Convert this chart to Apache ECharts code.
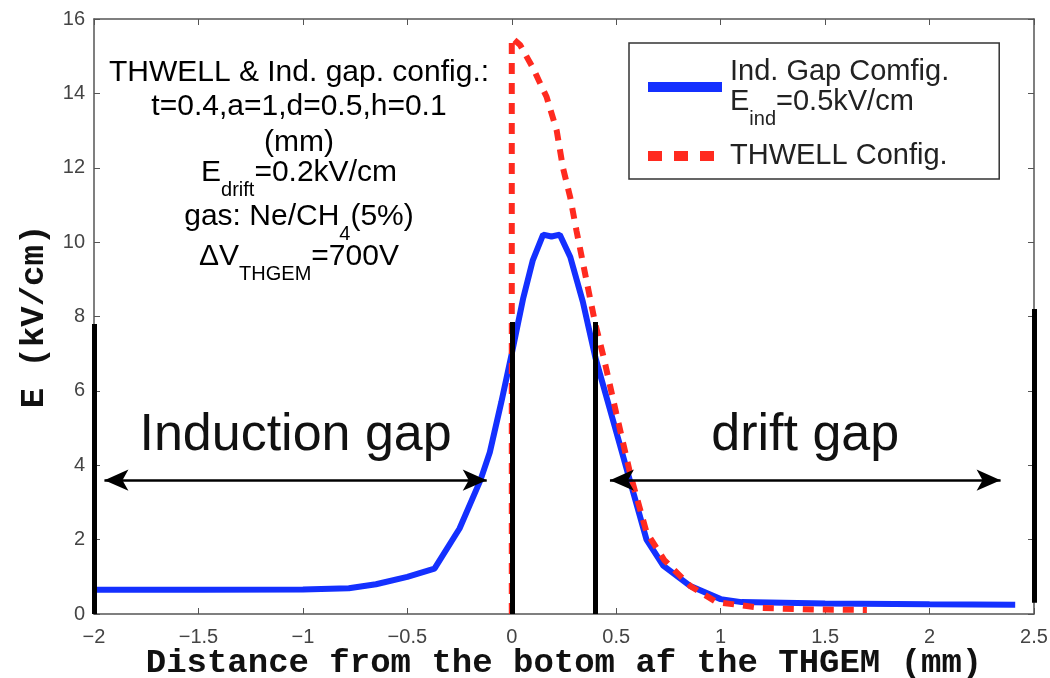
<!DOCTYPE html>
<html>
<head>
<meta charset="utf-8">
<title>E field along THGEM</title>
<script src="https://cdn.jsdelivr.net/npm/echarts@6/dist/echarts.min.js"></script>
<style>
  html, body { margin: 0; padding: 0; background: #fff; }
  #main { width: 1050px; height: 678px; }
</style>
</head>
<body>
<div id="main"></div>
<script>
// distance from bottom of THGEM (mm) / field (kV/cm)
const indGapX = [-2, -1.5, -1.0, -0.78, -0.65, -0.5, -0.37, -0.25, -0.15, -0.105, -0.05, 0.0, 0.055, 0.1, 0.15, 0.19, 0.23, 0.28, 0.34, 0.40, 0.50, 0.57, 0.645, 0.725, 0.855, 1.0, 1.1, 1.5, 2.0, 2.41];
const indGapE = [0.65, 0.65, 0.66, 0.69, 0.8, 1.0, 1.22, 2.3, 3.6, 4.35, 5.7, 7.0, 8.5, 9.5, 10.2, 10.15, 10.2, 9.6, 8.4, 6.9, 4.9, 3.5, 2.0, 1.3, 0.75, 0.4, 0.32, 0.28, 0.26, 0.25];
const thwellX = [0, 0, 0.04, 0.10, 0.167, 0.215, 0.245, 0.28, 0.31, 0.36, 0.40, 0.44, 0.50, 0.57, 0.645, 0.73, 0.855, 0.98, 1.2, 1.45, 1.7];
const thwellE = [0, 15.5, 15.3, 14.7, 13.9, 13.0, 12.0, 11.2, 10.3, 8.9, 7.8, 6.9, 5.4, 3.7, 2.2, 1.45, 0.75, 0.32, 0.16, 0.12, 0.11];

// electrode / gap boundaries (black bars)
const barX = [-2, 0, 0.4, 2.5];
const barLow = [0, 0, 0, 0.3];
const barHigh = [7.8, 7.85, 7.85, 8.2];

// gap arrows
const arrowE = 3.6;
const inductionArrow = [-1.95, -0.12];
const driftArrow = [0.47, 2.34];

const SANS = '"Liberation Sans", Arial, Helvetica, sans-serif';
const MONO = '"Liberation Mono", "Courier New", monospace';

const myChart = echarts.init(document.getElementById('main'));

const pairs = (xs, ys) => xs.map((x, i) => [x, ys[i]]);
const minus = (v) => (v < 0 ? '\u2212' + Math.abs(v) : String(v));

// subscript styles (annotation + legend)
const richText = {
  t: { fontSize: 29, fontFamily: SANS, color: '#222', lineHeight: 30, verticalAlign: 'top' },
  s: { fontSize: 20, fontFamily: SANS, color: '#222', lineHeight: 20, padding: [22, 0, 0, 0], verticalAlign: 'top' }
};
const noteRich = {
  t: Object.assign({}, richText.t, { fontSize: 30 }),
  s: richText.s
};

const noteLines = [
  ['{t|THWELL & Ind. gap. config.:}', 73],
  ['{t|t=0.4,a=1,d=0.5,h=0.1}', 107],
  ['{t|(mm)}', 143],
  ['{t|E}{s|drift}{t|=0.2kV/cm}', 173],
  ['{t|gas: Ne/CH}{s|4}{t|(5%)}', 217],
  ['{t|\u0394V}{s|THGEM}{t|=700V}', 257]
];

const option = {
  animation: false,
  backgroundColor: '#fff',
  grid: { left: 94, right: 16, top: 19, bottom: 64, outerBoundsMode: 'none', containLabel: false },
  xAxis: [
    {
      type: 'value', min: -2, max: 2.5, interval: 0.5,
      name: 'Distance from the botom af the THGEM (mm)',
      nameLocation: 'middle', nameGap: 32, nameMoveOverlap: false,
      nameTextStyle: { fontFamily: MONO, fontWeight: 'bold', fontSize: 34, color: '#111' },
      axisLine: { onZero: false, lineStyle: { color: '#555', width: 1.5 } },
      axisTick: { inside: true, length: 6, lineStyle: { color: '#555' } },
      axisLabel: { formatter: minus, fontFamily: SANS, fontSize: 20, color: '#444', margin: 13 },
      splitLine: { show: false }
    },
    {
      type: 'value', position: 'top', min: -2, max: 2.5, interval: 0.5,
      axisLine: { onZero: false, lineStyle: { color: '#555', width: 1.5 } },
      axisTick: { inside: true, length: 6, lineStyle: { color: '#555' } },
      axisLabel: { show: false },
      splitLine: { show: false }
    }
  ],
  yAxis: [
    {
      type: 'value', min: 0, max: 16, interval: 2,
      name: 'E (kV/cm)',
      nameLocation: 'middle', nameGap: 38,
      nameTextStyle: { fontFamily: MONO, fontWeight: 'bold', fontSize: 34, color: '#111' },
      axisLine: { show: true, onZero: false, lineStyle: { color: '#555', width: 1.5 } },
      axisTick: { show: true, inside: true, length: 6, lineStyle: { color: '#555' } },
      axisLabel: { fontFamily: SANS, fontSize: 20, color: '#444', margin: 9 },
      splitLine: { show: false }
    },
    {
      type: 'value', position: 'right', min: 0, max: 16, interval: 2,
      axisLine: { show: true, onZero: false, lineStyle: { color: '#555', width: 1.5 } },
      axisTick: { show: true, inside: true, length: 6, lineStyle: { color: '#555' } },
      axisLabel: { show: false },
      splitLine: { show: false }
    }
  ],
  legend: {
    orient: 'vertical',
    left: 629, top: 43,
    padding: [14, 50, 9, 14],
    backgroundColor: '#fff',
    borderColor: '#333', borderWidth: 1.5,
    itemWidth: 74, itemHeight: 10, itemGap: 12,
    data: [
      { name: 'Ind. Gap Comfig.', icon: 'rect', itemStyle: { color: '#1430ff' } },
      {
        name: 'THWELL Config.',
        itemStyle: { opacity: 0 },
        lineStyle: { color: '#ff2a1f', width: 10, type: [14, 12], cap: 'butt' }
      }
    ],
    formatter: (name) => name === 'THWELL Config.'
      ? '{t|THWELL Config.}'
      : '{t|Ind. Gap Comfig.}\n{t|E}{s|ind}{t|=0.5kV/cm}',
    textStyle: { padding: [0, 0, 0, 3], rich: richText }
  },
  graphic: noteLines.map(([txt, cy]) => ({
    type: 'text',
    x: 299, y: cy - 15,
    silent: true,
    style: {
      text: txt, rich: noteRich,
      align: 'center', textAlign: 'center',
      verticalAlign: 'top', textVerticalAlign: 'top'
    }
  })),
  series: [
    {
      name: 'guides',
      type: 'line',
      data: pairs(barX, barLow),
      symbol: 'none',
      lineStyle: { opacity: 0 },
      silent: true,
      z: 2,
      markLine: {
        silent: true,
        animation: false,
        symbol: 'none',
        label: { show: false },
        emphasis: { disabled: true },
        lineStyle: { color: '#000', width: 5, type: 'solid' },
        data: barX.map((x, i) => [{ coord: [x, barLow[i]] }, { coord: [x, barHigh[i]] }])
      }
    },
    {
      name: 'arrows',
      type: 'line',
      data: [[inductionArrow[0], arrowE]],
      symbol: 'none',
      lineStyle: { opacity: 0 },
      silent: true,
      z: 2,
      markLine: {
        silent: true,
        animation: false,
        symbol: ['arrow', 'arrow'],
        symbolSize: [16, 24],
        emphasis: { disabled: true },
        lineStyle: { color: '#000', width: 2.5, type: 'solid' },
        label: {
          show: true, position: 'middle', formatter: '{b}', distance: 18,
          fontFamily: SANS, fontSize: 52, color: '#111'
        },
        data: [
          [{ name: 'Induction gap', coord: [inductionArrow[0], arrowE] }, { coord: [inductionArrow[1], arrowE] }],
          [{ name: 'drift gap', coord: [driftArrow[0], arrowE] }, { coord: [driftArrow[1], arrowE] }]
        ]
      }
    },
    {
      name: 'Ind. Gap Comfig.',
      type: 'line',
      data: pairs(indGapX, indGapE),
      symbol: 'none',
      z: 3,
      itemStyle: { color: '#1430ff' },
      lineStyle: { color: '#1430ff', width: 6 }
    },
    {
      name: 'THWELL Config.',
      type: 'line',
      data: pairs(thwellX, thwellE),
      symbol: 'none',
      z: 4,
      itemStyle: { color: '#ff2a1f' },
      lineStyle: { color: '#ff2a1f', width: 6, type: [11, 9] }
    }
  ]
};

myChart.setOption(option);
</script>
</body>
</html>
